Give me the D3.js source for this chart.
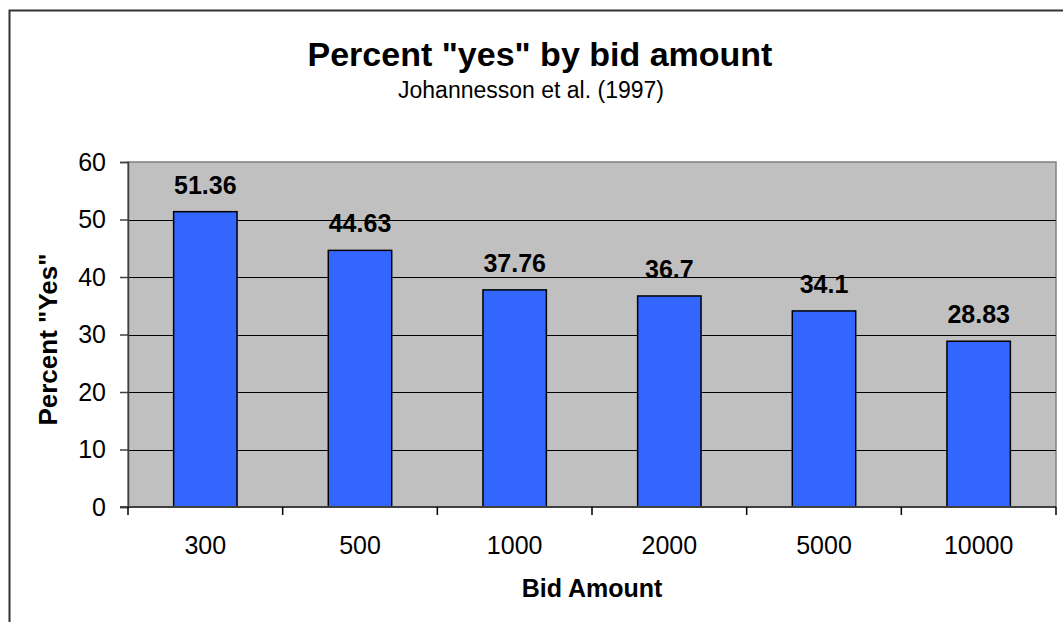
<!DOCTYPE html>
<html><head><meta charset="utf-8">
<script src="https://cdn.jsdelivr.net/npm/d3@7"></script>
<style>
body{margin:0;background:#fff;}
svg{display:block;font-family:Arial,"Liberation Sans",sans-serif;}
</style></head>
<body><svg id="c" width="1063" height="622"></svg>
<script>
const categories = ["300","500","1000","2000","5000","10000"];
const values = [51.36,44.63,37.76,36.7,34.1,28.83];
const yTicks = [0,10,20,30,40,50,60];
const title = 'Percent "yes" by bid amount';
const subtitle = "Johannesson et al. (1997)";
const xTitle = "Bid Amount";
const yTitle = 'Percent "Yes"';

const svg = d3.select("#c");
const L = 128, R = 1056, T = 162, B = 507;

// outer frame
svg.append("path").attr("d","M9.5,700 V10.5 H1100")
  .attr("fill","none").attr("stroke","#333").attr("stroke-width",2);

const x = d3.scaleBand().domain(categories).range([L,R]).paddingInner(0.59).paddingOuter(0.295);
const xb = d3.scaleBand().domain(categories).range([L,R]);
const y = d3.scaleLinear().domain([0,60]).range([B,T]);

svg.append("rect").attr("x",L).attr("y",T).attr("width",R-L).attr("height",B-T)
  .attr("fill","#c0c0c0").attr("stroke","#808080").attr("stroke-width",1.5);

svg.append("g").selectAll("line").data(yTicks.filter(d=>d>0&&d<60)).join("line")
  .attr("x1",L).attr("x2",R).attr("y1",d=>Math.round(y(d))+0.5).attr("y2",d=>Math.round(y(d))+0.5)
  .attr("stroke","#000").attr("stroke-width",1);

// y axis
const ya = svg.append("g").attr("transform",`translate(${L},0)`)
  .call(d3.axisLeft(y).tickValues(yTicks).tickSize(8).tickPadding(14));
ya.select(".domain").attr("stroke","#404040").attr("stroke-width",1.5);
ya.selectAll(".tick line").attr("stroke","#404040").attr("stroke-width",1.5);
ya.selectAll("text").attr("font-size",25).attr("fill","#000").attr("font-family",'Arial,"Liberation Sans",sans-serif');

// bars
svg.append("g").selectAll("rect").data(values).join("rect")
  .attr("x",(d,i)=>x(categories[i])).attr("width",x.bandwidth())
  .attr("y",d=>y(d)).attr("height",d=>B-y(d))
  .attr("fill","#3366ff").attr("stroke","#000").attr("stroke-width",1.5);

// data labels
svg.append("g").selectAll("text").data(values).join("text")
  .attr("x",(d,i)=>x(categories[i])+x.bandwidth()/2).attr("y",d=>y(d)-18)
  .attr("text-anchor","middle").attr("font-size",25).attr("font-weight","bold")
  .text(d=>d);

// x axis
svg.append("line").attr("x1",L-8).attr("x2",R).attr("y1",B).attr("y2",B)
  .attr("stroke","#404040").attr("stroke-width",2);
const xTickPos = categories.map(c=>xb(c)).concat([R]);
svg.append("g").selectAll("line").data(xTickPos).join("line")
  .attr("x1",d=>d).attr("x2",d=>d).attr("y1",B).attr("y2",B+8)
  .attr("stroke","#000").attr("stroke-width",1.5);
svg.append("g").selectAll("text").data(categories).join("text")
  .attr("x",d=>xb(d)+xb.bandwidth()/2).attr("y",554)
  .attr("text-anchor","middle").attr("font-size",25).text(d=>d);

// titles
svg.append("text").attr("x",540).attr("y",66).attr("text-anchor","middle")
  .attr("font-size",34).attr("font-weight","bold").text(title);
svg.append("text").attr("x",531).attr("y",98).attr("text-anchor","middle")
  .attr("font-size",23).text(subtitle);
svg.append("text").attr("x",(L+R)/2).attr("y",597).attr("text-anchor","middle")
  .attr("font-size",25).attr("font-weight","bold").text(xTitle);
svg.append("text").attr("transform",`translate(57,${(T+B)/2+5}) rotate(-90)`)
  .attr("text-anchor","middle").attr("font-size",26).attr("font-weight","bold").text(yTitle);
</script></body></html>
